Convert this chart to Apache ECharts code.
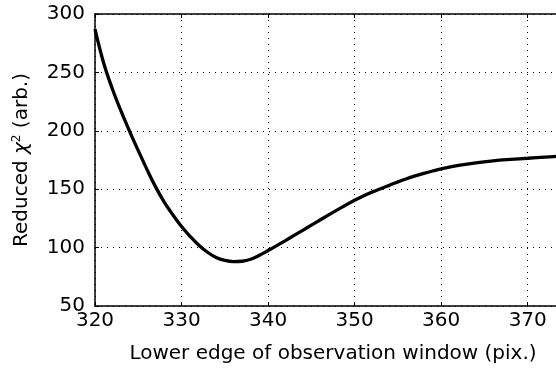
<!DOCTYPE html>
<html><head><meta charset="utf-8">
<script src="https://cdn.jsdelivr.net/npm/echarts@6/dist/echarts.min.js"></script>
<style>html,body{margin:0;padding:0;background:#fff}#c{width:556px;height:371px}</style>
</head><body><div id="c"></div>
<script>
const xValues = [320,321,322,323,324,325,326,327,328,329,330,331,332,333,334,335,336,337,338,339,340,341,342,343,344,345,346,347,348,349,350,351,352,353,354,355,356,357,358,359,360,362,364,366,368,370,372,374,375];
const chiValues = [287,258,236,217,199.5,183,167,152,139,128,118,109.5,102,96,91.5,89,88,88.3,90,93.4,97.5,101.7,106,110.4,114.8,119.2,123.6,128,132.3,136.5,140.5,144.2,147.5,150.4,153.3,156.3,159,161.4,163.6,165.6,167.4,170.3,172.6,174.3,175.5,176.5,177.5,178.4,178.8];
const xTicks = [320,330,340,350,360,370];
const yTicks = [50,100,150,200,250,300];

const font = 'DejaVu Sans';
const fs = 20;
const chart = echarts.init(document.getElementById('c'));
const dotted = {show:true, lineStyle:{color:'#000', type:[1,5], width:1}};
chart.setOption({
  animation:false,
  grid:{left:95, top:14, width:476, height:292, containLabel:false, outerBoundsMode:'none'},
  xAxis:[{
    type:'value', min:320, max:375, interval:10,
    name:'Lower edge of observation window (pix.)', nameLocation:'middle', nameGap:38,
    nameTextStyle:{fontFamily:font, fontSize:fs, color:'#000'},
    axisLine:{show:true, lineStyle:{color:'#000', width:1.5}},
    axisTick:{show:true, inside:true, length:4, lineStyle:{color:'#000'}},
    axisLabel:{fontFamily:font, fontSize:fs, color:'#000', margin:5, showMaxLabel:false},
    splitLine:dotted
  },{
    type:'value', min:320, max:375, interval:10, position:'top',
    axisLine:{show:true, lineStyle:{color:'#000', width:1.5}},
    axisTick:{show:true, inside:true, length:4, lineStyle:{color:'#000'}},
    axisLabel:{show:false}, splitLine:{show:false}
  }],
  yAxis:{
    type:'value', min:50, max:300, interval:50,
    name:'{a|Reduced }{i|χ}{s|2}{a| (arb.)}', nameLocation:'middle', nameGap:62, nameRotate:90,
    nameTextStyle:{fontFamily:font, fontSize:fs, color:'#000',
      rich:{
        a:{fontFamily:font, fontSize:fs, color:'#000'},
        i:{fontFamily:font, fontSize:fs, color:'#000', fontStyle:'italic'},
        s:{fontFamily:font, fontSize:12, color:'#000', padding:[0,0,10,0]}
      }},
    axisLine:{show:true, lineStyle:{color:'#000', width:1.5}},
    axisTick:{show:true, inside:true, length:4, lineStyle:{color:'#000'}},
    axisLabel:{fontFamily:font, fontSize:fs, color:'#000', margin:10},
    splitLine:dotted
  },
  series:[{
    type:'line', xAxisIndex:0, smooth:0.4, symbol:'none',
    data:xValues.map((x,i)=>[x, chiValues[i]]),
    lineStyle:{color:'#000', width:3.3}
  }]
});
</script></body></html>
